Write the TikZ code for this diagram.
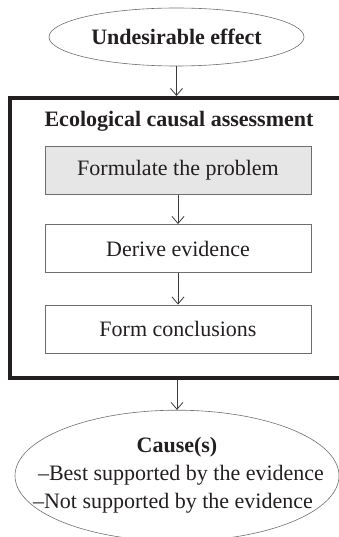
\documentclass[tikz,border=0pt]{standalone}
\usepackage{fontspec}
\setmainfont{Liberation Serif}
\usetikzlibrary{arrows.meta, positioning, shapes.geometric}
\definecolor{inkgray}{HTML}{231F20}
\definecolor{edgegray}{HTML}{6E6E6E}
\definecolor{boxfill}{HTML}{E6E6E6}
\definecolor{arrowgray}{HTML}{3A3A3A}

\begin{document}
\begin{tikzpicture}[
    x=1pt, y=-1pt,
    >={Straight Barb[length=7pt, width=12pt]},
    every node/.style={text=inkgray, font=\fontsize{22}{28}\selectfont},
    oval/.style={ellipse, draw=edgegray, line width=0.6pt, inner sep=0pt},
    stepbox/.style={rectangle, draw=edgegray, line width=0.9pt,
      minimum width=266pt, minimum height=48pt, inner sep=0pt},
    flow/.style={->, arrowgray, line width=0.8pt},
  ]

  % Frame of the picture
  \useasboundingbox (0,0) rectangle (339,537);
  \clip (0,0) rectangle (339,537);

  % === Input ===
  \node[oval, minimum width=255pt, minimum height=58pt, font=\fontsize{22}{28}\selectfont\bfseries]
    (effect) at (176.5,37) {Undesirable effect};

  % === Assessment frame ===
  \node[rectangle, draw=inkgray, line width=4pt, minimum width=335pt, minimum height=280pt]
    (assess) at (177.5,238) {};
  \node[font=\fontsize{22}{28}\selectfont\bfseries] (title) at (179,121) {Ecological causal assessment};

  % === Steps ===
  \node[stepbox, fill=boxfill] (formulate) at (178,170.5) {Formulate the problem};
  \node[stepbox] (derive) at (178,248.5) {Derive evidence};
  \node[stepbox] (conclude) at (178,329) {Form conclusions};

  % === Output ===
  \node[oval, minimum width=324pt, minimum height=131pt] (cause) at (177,475.7) {};
  \node[align=center] (causetext) at (cause.center)
    {\textbf{Cause(s)}\\\hspace*{8pt}–Best supported by the evidence\\–Not supported by the evidence\hspace*{8pt}};

  % === Connectors ===
  \draw[flow] (effect.south) -- (effect.south |- assess.north);
  \draw[flow] (formulate) -- (derive);
  \draw[flow] (derive) -- (conclude);
  \draw[flow] (assess.south -| cause.north) -- (cause.north);

\end{tikzpicture}
\end{document}
